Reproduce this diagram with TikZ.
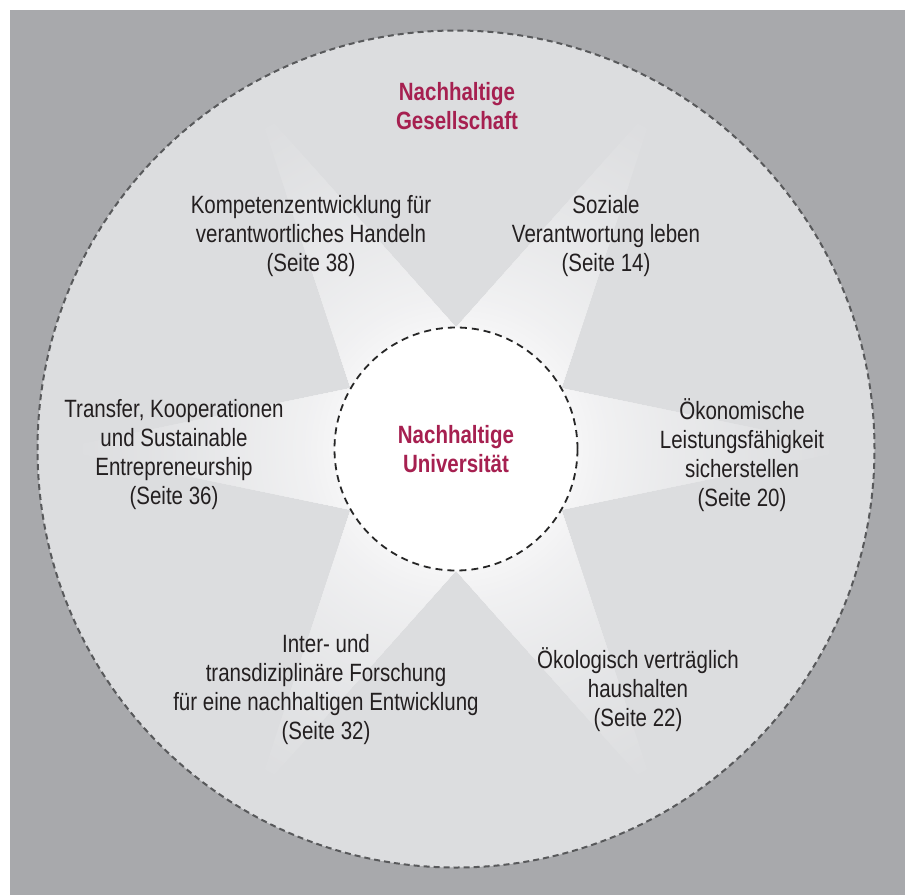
\documentclass[tikz,border=0pt]{standalone}
\usepackage{fontspec}
\setmainfont[FakeStretch=0.82]{Liberation Sans}
\definecolor{bggray}{HTML}{A8A9AC}
\definecolor{outerfill}{HTML}{DCDDDF}
\definecolor{dashgray}{HTML}{58595B}
\definecolor{crimson}{RGB}{166,32,80}
\definecolor{txt}{HTML}{231F20}
\definecolor{rayA}{HTML}{F6F6F7}
\tikzset{
  lbl/.style={align=center, text=txt, font=\fontsize{25}{29}\selectfont, inner sep=0pt},
  hdl/.style={align=center, text=crimson, font=\bfseries\fontsize{25}{29}\selectfont, inner sep=0pt},
}
\begin{document}
\begin{tikzpicture}[x=1pt,y=-1pt]
\useasboundingbox (0,0) rectangle (905,895);
\fill[white] (0,0) rectangle (905,895);
\fill[bggray] (10,10) rectangle (905,895);
\node[circle, minimum size=837pt, inner sep=0pt, fill=outerfill, draw=dashgray, line width=2pt, dash pattern=on 6pt off 4pt] (society) at (456,449) {};
\begin{scope}[shift={(456,449)}]
  \clip (0:400) -- (30:121.5) -- (60:400) -- (90:121.5) -- (120:400) -- (150:121.5) -- (180:400) -- (210:121.5) -- (240:400) -- (270:121.5) -- (300:400) -- (330:121.5) -- cycle;
  \foreach \r in {400,397,...,118} {
    \pgfmathsetmacro\p{min(100,100*(max(0,(\r-121)/260))^0.75)}
    \fill[outerfill!\p!rayA] (0,0) circle (\r);
  }
\end{scope}
\node[circle, minimum size=243pt, inner sep=0pt, fill=white, draw=black!85, line width=1.8pt, dash pattern=on 7pt off 5pt, hdl] (uni) at (456,449) {Nachhaltige\\Universität};
\node[hdl] (gesell) at (457,106) {Nachhaltige\\Gesellschaft};
\node[lbl] (komp) at (311,236) {Kompetenzentwicklung für\\verantwortliches Handeln\\(Seite 38)};
\node[lbl] (sozial) at (606,236) {Soziale\\Verantwortung leben\\(Seite 14)};
\node[lbl] (transfer) at (174,455) {Transfer, Kooperationen\\und Sustainable\\Entrepreneurship\\(Seite 36)};
\node[lbl] (oekon) at (742,455) {Ökonomische\\Leistungsfähigkeit\\sicherstellen\\(Seite 20)};
\node[lbl] (inter) at (326,690) {Inter- und\\transdiziplinäre Forschung\\für eine nachhaltigen Entwicklung\\(Seite 32)};
\node[lbl] (oekol) at (638,690) {Ökologisch verträglich\\haushalten\\(Seite 22)};
\end{tikzpicture}
\end{document}
